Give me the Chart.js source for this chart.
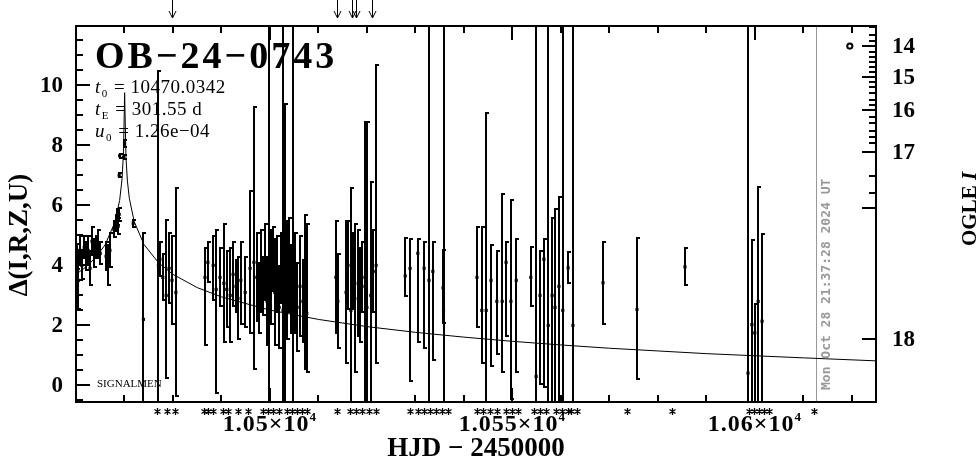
<!DOCTYPE html>
<html>
<head>
<meta charset="utf-8">
<script src="https://cdn.jsdelivr.net/npm/chart.js@4.4.1/dist/chart.umd.min.js"></script>
<style>
  body { margin: 0; background: #fff; }
  #wrap { width: 979px; height: 459px; }
</style>
</head>
<body>
<div id="wrap"><canvas id="lc" width="979" height="459"></canvas></div>
<script>
// Observations: HJD-2450000, delta, error bar up / down
const obsHJD = [
  10460.2, 10460.5, 10460.8, 10461.2, 10461.7, 10462.1, 10462.5, 10462.9, 10463.3, 10463.7, 10464.1, 10464.5, 10465.0,
  10466.2, 10466.6, 10467.0, 10467.8, 10468.3, 10468.5, 10468.7, 10468.9, 10468.9, 10469.0, 10469.8, 10470.0, 10471.8, 10473.9,
  10477.0, 10477.3, 10477.9, 10478.6, 10479.2, 10479.8, 10480.6,
  10486.6, 10487.2, 10488.3, 10488.9, 10489.7, 10490.5, 10491.1, 10491.8, 10492.4, 10493.0, 10493.4, 10494.0, 10494.9, 10495.9, 10496.7,
  10497.3, 10497.7, 10498.2, 10498.6, 10499.0, 10499.4, 10499.8, 10500.2, 10500.6, 10501.0, 10501.5, 10501.9, 10502.3, 10502.7,
  10503.1, 10503.5, 10503.9, 10504.3, 10504.8, 10505.2, 10505.6, 10506.2, 10506.8, 10507.2, 10507.6,
  10513.6, 10514.0, 10515.7, 10516.1, 10516.7, 10517.1, 10517.5, 10518.2, 10518.6, 10519.0, 10519.6, 10520.0, 10520.8, 10521.3, 10521.9,
  10527.9, 10528.9, 10530.5, 10531.8, 10532.8, 10533.6, 10535.7, 10535.8,
  10542.7, 10543.7, 10544.6, 10545.6, 10546.8, 10547.9, 10548.7, 10549.7, 10550.8,
  10553.8, 10554.9, 10555.7, 10556.5, 10557.4, 10558.2, 10558.8, 10559.6, 10560.4, 10561.5, 10562.5,
  10568.7, 10575.7, 10585.6,
  10598.6, 10599.4, 10600.0, 10600.7, 10601.5
];
const obsDelta = [
  4.3, 3.5, 4.5, 4.0, 4.6, 4.3, 4.5, 3.9, 4.8, 4.4, 4.6, 4.7, 4.4,
  4.3, 4.0, 4.5, 5.2, 5.4, 5.6, 5.3, 5.7, 7.0, 7.65, 7.6, 8.05, 5.4, 2.2,
  4.0, 4.2, 3.6, 3.0, 3.9, 3.5, 3.1,
  3.6, 4.1, 4.0, 3.2, 3.6, 3.4, 3.2, 3.0, 3.7, 3.3, 2.9, 3.5, 3.1, 3.9, 4.1,
  3.6, 2.9, 3.8, 3.3, 4.1, 2.8, 3.0, 3.6, 4.2, 3.1, 3.7, 2.6, 3.9, 2.5,
  3.0, 3.5, 4.0, 3.2, 2.8, 3.4, 2.6, 3.3, 2.8, 3.1, 2.4,
  3.6, 2.8, 3.1, 4.0, 2.5, 3.8, 2.9, 3.4, 3.0, 3.6, 3.3, 2.6, 3.0, 3.8, 4.0,
  3.65, 3.9, 4.4, 3.9, 3.5, 3.8, 3.25, 2.5,
  3.6, 2.5, 2.5, 3.5, 2.8, 2.8, 4.1, 2.8, 3.5,
  3.6, 0.3, 3.0, 4.2, 2.0, 3.0, 2.6, 3.3, 2.5, 3.92, 2.0,
  3.42, 2.53, 3.95,
  0.41, 2.03, 1.75, 2.8, 2.14
];
const obsErrHi = [
  0.45, 1.0, 0.5, 0.5, 0.4, 0.5, 0.5, 0.6, 0.5, 0.5, 0.4, 0.5, 0.4,
  0.5, 0.7, 0.6, 0.3, 0.3, 0.3, 0.3, 0.25, 0.1, 0.1, 0.1, 0.15, 0.15, 2.9,
  6.5, 0.6, 0.8, 2.55, 1.2, 1.5, 3.5,
  1.0, 0.7, 1.0, 2.0, 1.0, 2.0, 1.3, 1.6, 1.1, 0.9, 1.4, 1.3, 1.2, 2.6, 5.2,
  1.5, 1.2, 1.4, 1.0, 1.3, 1.5, 12, 1.6, 1.1, 1.8, 1.3, 1.4, 1.2, 12,
  6.4, 2.0, 1.6, 1.5, 12, 1.7, 1.5, 1.7, 1.4, 2.6, 3.0,
  1.9, 1.6, 2.4, 1.5, 4.1, 1.3, 2.5, 1.8, 1.6, 1.2, 5.5, 6.2, 3.8, 1.4, 6.7,
  1.28, 1.0, 0.5, 0.9, 12, 1.0, 1.3, 12,
  1.7, 2.8, 6.6, 1.2, 1.7, 3.6, 0.7, 3.4, 1.4,
  1.06, 12, 1.5, 0.7, 12, 2.6, 3.3, 3.0, 12, 0.55, 12,
  1.4, 2.4, 0.65,
  12, 2.85, 1.0, 3.85, 2.95
];
const obsErrLo = [
  0.45, 1.0, 0.5, 0.5, 0.4, 0.5, 0.5, 0.6, 0.5, 0.5, 0.4, 0.5, 0.4,
  0.5, 0.7, 0.6, 0.3, 0.3, 0.3, 0.3, 0.25, 0.1, 0.1, 0.1, 0.15, 0.15, 3.0,
  5.0, 0.6, 0.8, 2.8, 1.2, 1.5, 3.5,
  2.3, 0.7, 1.2, 3.5, 1.0, 2.0, 1.3, 1.6, 1.1, 0.9, 1.4, 1.5, 1.2, 2.2, 3.6,
  1.5, 1.2, 1.4, 1.0, 1.3, 1.5, 12, 1.6, 1.1, 1.8, 1.3, 1.4, 1.2, 12,
  4.0, 2.0, 1.6, 1.5, 12, 1.7, 1.5, 1.7, 1.4, 2.6, 2.0,
  1.9, 1.6, 2.4, 1.5, 4.0, 1.3, 2.5, 1.8, 1.6, 1.2, 5.0, 4.0, 4.0, 1.4, 3.3,
  0.72, 3.8, 3.0, 2.7, 12, 3.0, 1.2, 12,
  1.7, 1.8, 3.5, 2.9, 1.8, 2.4, 2.5, 3.3, 3.1,
  1.0, 12, 3.0, 4.3, 12, 4.0, 4.0, 4.0, 12, 0.55, 12,
  1.39, 2.34, 0.64,
  12, 4.0, 4.0, 4.0, 4.0
];

// Model curve
const modelHJD = [10460, 10462, 10464, 10466, 10468, 10469, 10469.5, 10469.8, 10470.03, 10470.3, 10470.6, 10471, 10472, 10474,
  10477, 10480, 10485, 10490, 10500, 10510, 10520, 10530, 10540, 10550, 10560, 10570, 10580, 10590, 10600, 10610, 10625];
const modelDelta = [3.70, 3.94, 4.25, 4.68, 5.43, 6.16, 6.88, 7.78, 9.75, 7.61, 6.81, 6.23, 5.46, 4.70,
  4.09, 3.70, 3.26, 2.95, 2.51, 2.20, 1.96, 1.77, 1.61, 1.47, 1.35, 1.24, 1.15, 1.06, 0.99, 0.92, 0.82];

// OGLE baseline marker
const baseHJD = [10619.6];
const baseDelta = [11.3];

// markers outside the frame
const starHJD = [10476.8, 10478.7, 10480.5, 10486.4, 10487.2, 10488.3, 10490.3, 10491.4, 10493.4, 10495.5,
  10498.6, 10499.6, 10500.6, 10501.9, 10503.5, 10504.5, 10505.6, 10506.6, 10507.6,
  10513.8, 10516.5, 10517.7, 10519.0, 10520.4, 10521.9,
  10528.9, 10530.5, 10531.8, 10533.0, 10534.3, 10535.5, 10536.7,
  10542.8, 10544.0, 10545.3, 10546.9, 10548.6, 10549.9, 10551.1,
  10554.4, 10555.7, 10556.9, 10559.0, 10560.2, 10561.5, 10562.1, 10563.3,
  10573.6, 10582.9, 10598.9, 10599.9, 10600.9, 10602.0, 10603.0, 10612.3];
const arrowHJD = [10479.9, 10513.8, 10516.9, 10517.7, 10521.0];
const dateLineHJD = 10612.6;

// axes
const xMin = 10460, xMax = 10625;
const yMin = -0.55, yMax = 11.97;
const xTickVals = [10500, 10550, 10600];
const xTickLabels = ['1.05\u00d710', '1.055\u00d710', '1.06\u00d710'];
const xTickExp = '4';
const yTickVals = [0, 2, 4, 6, 8, 10];
const rightTickVals = [11.30, 10.27, 9.16, 7.76, 1.54];
const rightTickLabels = ['14', '15', '16', '17', '18'];
const rightMinorVals = [11.94, 11.67, 11.47, 11.10, 10.94, 10.77, 10.60, 10.43, 10.10, 9.93, 9.73, 9.50, 9.33,
  8.93, 8.73, 8.49, 8.26, 8.06, 6.99, 6.42];
const rightLongVals = [5.92];

const serif = '"Liberation Serif", "DejaVu Serif", serif';

const decorations = {
  id: 'decorations',
  beforeDatasetsDraw(chart) {
    const { ctx, chartArea: a, scales: { x, y } } = chart;
    ctx.save();
    ctx.beginPath();
    ctx.rect(a.left, a.top, a.right - a.left, a.bottom - a.top);
    ctx.clip();
    // date line
    const gx = Math.round(x.getPixelForValue(dateLineHJD)) + 0.5;
    ctx.strokeStyle = '#999';
    ctx.lineWidth = 1;
    ctx.beginPath();
    ctx.moveTo(gx, a.top); ctx.lineTo(gx, a.bottom);
    ctx.stroke();
    // error bars
    ctx.strokeStyle = '#000';
    ctx.lineWidth = 2;
    obsHJD.forEach((t, i) => {
      const px = Math.round(x.getPixelForValue(t));
      const top = Math.round(y.getPixelForValue(obsDelta[i] + obsErrHi[i]));
      const bot = Math.round(y.getPixelForValue(obsDelta[i] - obsErrLo[i]));
      ctx.beginPath();
      ctx.moveTo(px, top); ctx.lineTo(px, bot);
      ctx.moveTo(px - 1, top + 1); ctx.lineTo(px + 3, top + 1);
      ctx.moveTo(px - 1, bot - 1); ctx.lineTo(px + 3, bot - 1);
      ctx.stroke();
    });
    ctx.restore();
  },
  afterDraw(chart) {
    const { ctx, chartArea: a, scales: { x, y } } = chart;
    ctx.save();
    ctx.strokeStyle = '#000';
    ctx.fillStyle = '#000';

    // frame
    ctx.lineWidth = 2;
    ctx.strokeRect(a.left, a.top, a.right - a.left, a.bottom - a.top);

    // x ticks, top and bottom, pointing inwards
    ctx.beginPath();
    for (let d = 10460; d <= xMax; d += 10) {
      const px = Math.round(x.getPixelForValue(d));
      const len = d % 50 === 0 ? 14 : 7;
      ctx.moveTo(px, a.bottom); ctx.lineTo(px, a.bottom - len);
      ctx.moveTo(px, a.top); ctx.lineTo(px, a.top + len);
    }
    // left ticks
    for (let v = -0.5; v <= yMax; v += 0.5) {
      const py = Math.round(y.getPixelForValue(v));
      const len = Math.abs(v % 2) < 0.01 ? 14 : 7;
      ctx.moveTo(a.left, py); ctx.lineTo(a.left + len, py);
    }
    // right ticks
    rightTickVals.concat(rightLongVals).forEach(v => {
      const py = Math.round(y.getPixelForValue(v));
      ctx.moveTo(a.right, py); ctx.lineTo(a.right - 14, py);
    });
    rightMinorVals.forEach(v => {
      const py = Math.round(y.getPixelForValue(v));
      ctx.moveTo(a.right, py); ctx.lineTo(a.right - 7, py);
    });
    ctx.stroke();

    // asterisks under the axis
    ctx.lineWidth = 1.3;
    ctx.beginPath();
    starHJD.forEach(t => {
      const px = Math.round(x.getPixelForValue(t)) + 0.5;
      const py = a.bottom + 9.5;
      ctx.moveTo(px, py - 3.5); ctx.lineTo(px, py + 3.5);
      ctx.moveTo(px - 3, py - 2); ctx.lineTo(px + 3, py + 2);
      ctx.moveTo(px - 3, py + 2); ctx.lineTo(px + 3, py - 2);
    });
    ctx.stroke();
    // arrows above the frame
    ctx.lineWidth = 1;
    ctx.beginPath();
    arrowHJD.forEach(t => {
      const px = Math.round(x.getPixelForValue(t)) + 0.5;
      ctx.moveTo(px, 0); ctx.lineTo(px, 18);
      ctx.moveTo(px - 3.5, 11); ctx.lineTo(px, 18); ctx.lineTo(px + 3.5, 11);
    });
    ctx.stroke();

    // tick labels
    ctx.textBaseline = 'middle';
    ctx.font = 'bold 23px ' + serif;
    ctx.textAlign = 'right';
    yTickVals.forEach(v => ctx.fillText(String(v), a.left - 13, y.getPixelForValue(v) + 1));
    ctx.textAlign = 'left';
    rightTickVals.forEach((v, i) => ctx.fillText(rightTickLabels[i], a.right + 16, y.getPixelForValue(v) + 1));

    ctx.textBaseline = 'alphabetic';
    xTickVals.forEach((v, i) => {
      ctx.font = 'bold 24px ' + serif;
      ctx.letterSpacing = '1px';
      const w1 = ctx.measureText(xTickLabels[i]).width;
      ctx.font = 'bold 13px ' + serif;
      const w2 = ctx.measureText(xTickExp).width;
      const x0 = x.getPixelForValue(v) - (w1 + w2) / 2;
      ctx.font = 'bold 24px ' + serif;
      ctx.fillText(xTickLabels[i], x0, 431);
      ctx.font = 'bold 13px ' + serif;
      ctx.fillText(xTickExp, x0 + w1, 421);
      ctx.letterSpacing = '0px';
    });

    // title and fit parameters
    ctx.textAlign = 'left';
    ctx.font = 'bold 38px ' + serif;
    ctx.letterSpacing = '3px';
    ctx.fillText('OB\u221224\u22120743', 95, 68);
    ctx.letterSpacing = '0.5px';

    const params = [['t', '0', ' = 10470.0342', 93], ['t', 'E', ' = 301.55 d', 115], ['u', '0', ' = 1.26e\u221204', 137]];
    params.forEach(([sym, sub, rest, by]) => {
      ctx.font = 'italic 19px ' + serif;
      ctx.fillText(sym, 95, by);
      let w = ctx.measureText(sym).width;
      ctx.font = '11px ' + serif;
      ctx.fillText(sub, 95 + w + 1, by + 4);
      w += ctx.measureText(sub).width + 2;
      ctx.font = '19px ' + serif;
      ctx.fillText(rest, 95 + w, by);
    });
    ctx.letterSpacing = '0px';

    ctx.font = '11px ' + serif;
    ctx.fillText('SIGNALMEN', 97, 387);

    // axis titles
    ctx.font = 'bold 27px ' + serif;
    ctx.textAlign = 'center';
    ctx.fillText('HJD \u2212 2450000', 476, 456);
    ctx.save();
    ctx.translate(27, 235);
    ctx.rotate(-Math.PI / 2);
    ctx.fillText('\u0394(I,R,Z,U)', 0, 0);
    ctx.restore();
    ctx.save();
    ctx.translate(976, 246);
    ctx.rotate(-Math.PI / 2);
    ctx.textAlign = 'left';
    ctx.font = 'bold 21px ' + serif;
    ctx.fillText('OGLE', 0, 0);
    const wOgle = ctx.measureText('OGLE ').width;
    ctx.font = 'bold italic 21px ' + serif;
    ctx.fillText('I', wOgle, 0);
    ctx.restore();

    // time stamp
    ctx.save();
    ctx.translate(830, 390);
    ctx.rotate(-Math.PI / 2);
    ctx.textAlign = 'left';
    ctx.fillStyle = '#999';
    ctx.font = 'bold 13px "DejaVu Sans Mono", monospace';
    ctx.fillText('Mon Oct 28 21:37:28 2024 UT', 0, 0);
    ctx.restore();

    ctx.restore();
  }
};

const hiddenTicks = { display: false };

new Chart(document.getElementById('lc'), {
  type: 'scatter',
  data: {
    datasets: [
      {
        label: 'model',
        data: modelHJD.map((t, i) => ({ x: t, y: modelDelta[i] })),
        showLine: true,
        borderColor: '#000',
        borderWidth: 1,
        pointRadius: 0,
        tension: 0
      },
      {
        label: 'data',
        data: obsHJD.map((t, i) => ({ x: t, y: obsDelta[i] })),
        pointStyle: 'rect',
        pointRadius: 2.2,
        backgroundColor: '#000',
        borderWidth: 0
      },
      {
        label: 'baseline',
        data: baseHJD.map((t, i) => ({ x: t, y: baseDelta[i] })),
        pointStyle: 'circle',
        pointRadius: 2.6,
        backgroundColor: '#fff',
        borderColor: '#000',
        borderWidth: 2
      }
    ]
  },
  options: {
    responsive: false,
    animation: false,
    devicePixelRatio: 1,
    layout: { padding: { top: 26, left: 0, right: 0, bottom: 0 } },
    plugins: { legend: { display: false }, tooltip: { enabled: false } },
    scales: {
      x: {
        type: 'linear', position: 'bottom', min: xMin, max: xMax,
        grid: { display: false, drawTicks: false }, border: { display: false },
        afterFit: s => { s.height = 57; },
        ticks: hiddenTicks
      },
      y: {
        type: 'linear', position: 'left', min: yMin, max: yMax,
        grid: { display: false, drawTicks: false }, border: { display: false },
        afterFit: s => { s.width = 76; },
        ticks: hiddenTicks
      },
      y2: {
        type: 'linear', position: 'right', min: yMin, max: yMax,
        grid: { display: false, drawTicks: false }, border: { display: false },
        afterFit: s => { s.width = 103; },
        ticks: hiddenTicks
      }
    }
  },
  plugins: [decorations]
});
</script>
</body>
</html>
